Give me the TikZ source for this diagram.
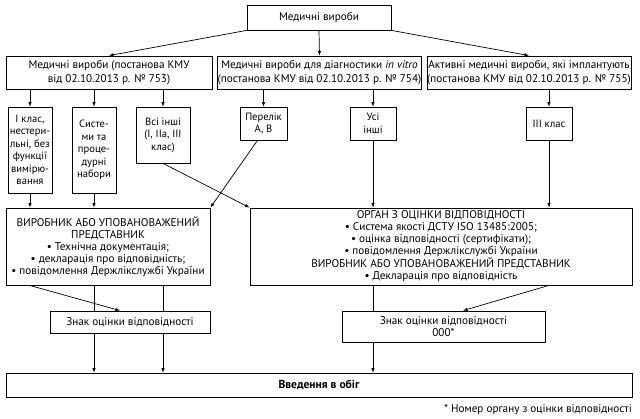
\documentclass[tikz,border=0pt]{standalone}
\usepackage{fontspec}
\setmainfont{PT Sans}
\usetikzlibrary{arrows.meta,calc}
\begin{document}
\begin{tikzpicture}[x=1pt,y=-1pt,
  box/.style={draw,line width=0.8pt,fill=white,inner sep=0pt,align=center,font=\fontsize{11.2}{13.5}\selectfont},
  narrow/.style={box,font=\fontsize{10.6}{12.5}\selectfont},
  big/.style={box,font=\fontsize{11.2}{12}\selectfont},
  arr/.style={line width=0.7pt,-{Latex[length=4.5pt,width=3.5pt]}},
  ln/.style={line width=0.7pt}]
\useasboundingbox (0,0) rectangle (640,419);
\node[box,minimum width=144,minimum height=25] (top) at (319,17.5) {Медичні вироби};
\node[box,minimum width=206,minimum height=33] (r2a) at (109,72.5) {Медичні вироби (постанова КМУ\\від 02.10.2013 р. № 753)};
\node[box,minimum width=203,minimum height=33] (r2b) at (319.5,72.5) {Медичні вироби для діагностики \textit{in vitro}\\(постанова КМУ від 02.10.2013 р. № 754)};
\node[box,minimum width=204,minimum height=33] (r2c) at (529,72.5) {Активні медичні вироби, які імплантують\\(постанова КМУ від 02.10.2013 р. № 755)};
\node[narrow,minimum width=44,minimum height=86] (r3a) at (30,150) {I клас,\\нестери-\\льні, без\\функції\\вимірю-\\вання};
\node[narrow,minimum width=44,minimum height=86] (r3b) at (94,150) {Систе-\\ми та\\проце-\\дурні\\набори};
\node[narrow,minimum width=54,minimum height=56] (r3c) at (163,135) {Всі інші\\(I, IIa, III\\клас)};
\node[narrow,minimum width=47,minimum height=33] (r3d) at (263.5,123.5) {Перелік\\А, В};
\node[narrow,minimum width=46,minimum height=33] (r3e) at (373,123.5) {Усі\\інші};
\node[narrow,minimum width=46,minimum height=33] (r3f) at (549,123.5) {III клас};
\node[big,minimum width=204,minimum height=77] (vyr) at (108,246.5) {ВИРОБНИК АБО УПОВАНОВАЖЕНИЙ\\ПРЕДСТАВНИК\\• Технічна документація;\\• декларація про відповідність;\\• повідомлення Держлікслужбі України};
\node[big,minimum width=382,minimum height=77] (org) at (441,246.5) {ОРГАН З ОЦІНКИ ВІДПОВІДНОСТІ\\• Система якості ДСТУ ISO 13485:2005;\\• оцінка відповідності (сертифікати);\\• повідомлення Держлікслужбі України\\ВИРОБНИК АБО УПОВАНОВАЖЕНИЙ ПРЕДСТАВНИК\\• Декларація про відповідність};
\node[box,minimum width=160,minimum height=22] (zn1) at (130,322) {Знак оцінки відповідності};
\node[box,minimum width=203,minimum height=31,font=\fontsize{11.2}{12.5}\selectfont] (zn2) at (443.5,326.5) {Знак оцінки відповідності\\000*};
\node[box,minimum width=626,minimum height=24] (vved) at (319,385) {\fontsize{11.6}{13}\selectfont\textbf{Введення в обіг}};
\node[anchor=east,inner sep=0pt,font=\fontsize{11.2}{12}\selectfont] (foot) at (632,410) {* Номер органу з оцінки відповідності};
% top level
\draw[arr] (top.south west) -- (r2a.north);
\draw[arr] (top.south) -- (r2b.north);
\draw[arr] (top.south east) -- (r2c.north);
% row 2 -> row 3
\draw[arr] (r3a.north |- r2a.south) -- (r3a.north);
\draw[arr] (r3b.north |- r2a.south) -- (r3b.north);
\draw[arr] (r3c.north |- r2a.south) -- (r3c.north);
\draw[arr] (r3d.north |- r2b.south) -- (r3d.north);
\draw[arr] (r3e.north |- r2b.south) -- (r3e.north);
\draw[arr] (r3f.north |- r2c.south) -- (r3f.north);
% row 3 -> row 4
\draw[arr] (r3a.south) -- (r3a.south |- vyr.north);
\draw[arr] (r3b.south) -- (r3b.south |- vyr.north);
\draw[arr] (r3c.south) -- (org.north west);
\draw[arr] ([xshift=-6]r3d.south) -- (vyr.north east);
\draw[arr] (r3e.south) -- (r3e.south |- org.north);
\draw[arr] (r3f.south) -- (r3f.south |- org.north);
% row 4 -> marks
\draw[arr] ([xshift=24]vyr.south west) -- ([xshift=-10]zn1.north);
\draw[ln] (r3b.south |- vyr.south) -- (r3b.south |- zn1.north);
\draw[ln] (r3c.south |- vyr.south) -- (r3c.south |- zn1.north);
\draw[arr] (r3b.south |- zn1.south) -- (r3b.south |- vved.north);
\draw[arr] (r3c.south |- zn1.south) -- (r3c.south |- vved.north);
\draw[ln] (r3e.south |- org.south) -- (r3e.south |- zn2.north);
\draw[arr] (r3e.south |- zn2.south) -- (r3e.south |- vved.north);
\draw[arr] (r3f.south |- org.south) -- ([xshift=19.5]zn2.north);
\end{tikzpicture}
\end{document}
